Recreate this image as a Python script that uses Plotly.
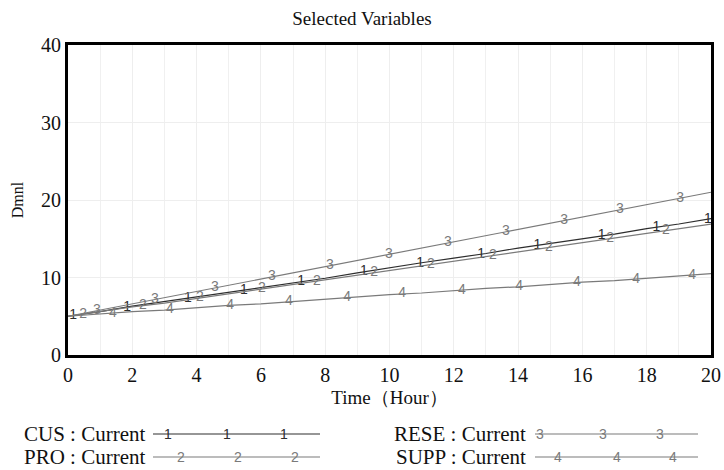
import numpy as np
import plotly.graph_objects as go

time_hours = list(range(0, 21))
# Values (Dmnl)
cus = [5.0, 5.6, 6.3, 6.9, 7.5, 8.1, 8.7, 9.3, 9.9, 10.6, 11.3, 11.9, 12.5, 13.1, 13.8, 14.4, 15.0, 15.6, 16.3, 16.9, 17.6]
pro = [5.0, 5.6, 6.2, 6.7, 7.3, 7.9, 8.5, 9.1, 9.7, 10.3, 10.9, 11.5, 12.1, 12.7, 13.3, 13.9, 14.5, 15.1, 15.7, 16.3, 16.9]
rese = [5.0, 5.8, 6.6, 7.4, 8.2, 9.0, 9.8, 10.6, 11.4, 12.2, 13.0, 13.8, 14.6, 15.4, 16.2, 17.0, 17.8, 18.6, 19.4, 20.2, 21.0]
supp = [5.0, 5.3, 5.6, 5.8, 6.1, 6.4, 6.6, 6.9, 7.2, 7.5, 7.8, 8.0, 8.3, 8.6, 8.8, 9.1, 9.4, 9.6, 9.9, 10.2, 10.5]

series_names = ["CUS : Current", "PRO : Current", "RESE : Current", "SUPP : Current"]
series_labels = ["1", "2", "3", "4"]
series_colors = ["#2e2e2e", "#7a7a7a", "#7a7a7a", "#7a7a7a"]

# x positions (hours) of the numeric line labels
label_x = [
    [0.16, 1.84, 3.73, 5.47, 7.25, 9.2, 10.95, 12.85, 14.6, 16.6, 18.3, 19.9],
    [0.47, 2.33, 4.1, 6.03, 7.74, 9.52, 11.29, 13.22, 14.96, 16.86, 18.6],
    [0.9, 2.7, 4.57, 6.34, 8.15, 9.98, 11.82, 13.62, 15.43, 17.17, 19.04],
    [1.4, 3.17, 5.04, 6.87, 8.68, 10.39, 12.25, 14.03, 15.83, 17.67, 19.41],
]

x_ticks = list(range(0, 21, 2))
y_ticks = [0, 10, 20, 30, 40]

SERIF = "Liberation Serif, Times New Roman, serif"
SANS = "Liberation Sans, Arial, sans-serif"

fig = go.Figure()
all_series = [cus, pro, rese, supp]
for vals, name, lab, col, lx in zip(all_series, series_names, series_labels, series_colors, label_x):
    fig.add_trace(go.Scatter(x=time_hours, y=vals, mode="lines", name=name,
                             line=dict(color=col, width=1.2), showlegend=False, hoverinfo="skip"))
    ly = np.interp(lx, time_hours, vals)
    fig.add_trace(go.Scatter(x=lx, y=ly, mode="text", text=[lab] * len(lx),
                             textfont=dict(family=SANS, size=14, color=col),
                             textposition="middle center", showlegend=False, hoverinfo="skip"))

W, H = 724, 470
L = 68
R = W - 711
T = 45
B = H - 355
pw, ph = W - L - R, H - T - B

def px_to_paper(px, py):
    return (px - L) / pw, (H - B - py) / ph

annotations = []
shapes = []
# Custom legend
legend_rows = [
    (series_names[0], series_labels[0], series_colors[0], 148, 153, 320, 434, [168, 227, 284]),
    (series_names[1], series_labels[1], series_colors[1], 148, 153, 320, 457, [181, 238, 295]),
    (series_names[2], series_labels[2], series_colors[2], 528, 535, 698, 434, [540, 603, 660]),
    (series_names[3], series_labels[3], series_colors[3], 528, 535, 698, 457, [558, 617, 673]),
]
for name, lab, col, text_right, lx0, lx1, ly, mks in legend_rows:
    xr, yr = px_to_paper(text_right, ly)
    annotations.append(dict(x=xr, y=yr, xref="paper", yref="paper", text=name, showarrow=False,
                            xanchor="right", yanchor="middle",
                            font=dict(family=SERIF, size=21, color="#111")))
    xa, ya = px_to_paper(lx0, ly)
    xb, _ = px_to_paper(lx1, ly)
    shapes.append(dict(type="line", xref="paper", yref="paper", x0=xa, x1=xb, y0=ya, y1=ya,
                       line=dict(color=col, width=1.2)))
    for m in mks:
        xm, ym = px_to_paper(m, ly)
        annotations.append(dict(x=xm, y=ym, xref="paper", yref="paper", text=lab, showarrow=False,
                                xanchor="center", yanchor="middle",
                                font=dict(family=SANS, size=14, color=col)))

fig.update_layout(
    width=W, height=H,
    margin=dict(l=L, r=R, t=T, b=B, autoexpand=False),
    paper_bgcolor="white", plot_bgcolor="white",
    title=dict(text="Selected Variables", x=0.5, xanchor="center", y=1 - 18 / H, yanchor="middle",
               font=dict(family=SERIF, size=19, color="#111")),
    xaxis=dict(range=[0, 20], tickvals=x_ticks, ticktext=[str(v) for v in x_ticks],
               showline=True, mirror=True, linecolor="black", linewidth=3,
               showgrid=True, gridcolor="#eeeeee", gridwidth=1,
               minor=dict(dtick=1, showgrid=True, gridcolor="#f0f0f0"),
               ticks="", zeroline=False, ticklabeloverflow="allow", automargin=False,
               tickfont=dict(family=SERIF, size=20, color="#111"),
               title=dict(text="Time（Hour）", font=dict(family=SERIF, size=19, color="#111"), standoff=6)),
    yaxis=dict(range=[0, 40], tickvals=y_ticks, ticktext=[str(v) for v in y_ticks],
               showline=True, mirror=True, linecolor="black", linewidth=3,
               showgrid=True, gridcolor="#eeeeee", gridwidth=1,
               ticks="", zeroline=False, automargin=False,
               tickfont=dict(family=SERIF, size=20, color="#111"),
               title=dict(text="Dmnl", font=dict(family=SERIF, size=16, color="#111"), standoff=14)),
    annotations=annotations,
    shapes=shapes,
)

fig.write_html("out.html", config={"displayModeBar": False},
               post_script="document.body.style.margin='0';document.body.style.overflow='hidden';")
